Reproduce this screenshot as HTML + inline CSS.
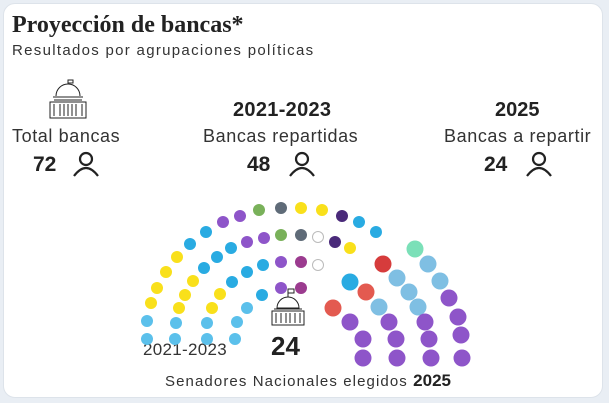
<!DOCTYPE html>
<html><head><meta charset="utf-8"><style>
body{margin:0;width:609px;height:403px;background:#e9eef4;font-family:"Liberation Sans",sans-serif;overflow:hidden}
.card{position:absolute;left:3px;top:3px;width:598px;height:393px;background:#fff;border-radius:12px;border:1px solid #dde3ea}
.t{position:absolute;white-space:nowrap;color:#222}
.l{font-size:18px;color:#333;letter-spacing:0.6px}
</style></head><body>
<div class="card"></div>
<div class="t" style="left:12px;top:12px;font-family:'Liberation Serif',serif;font-weight:bold;font-size:24px">Proyección de bancas*</div>
<div class="t" style="left:12px;top:42px;font-size:15px;color:#333;letter-spacing:1.3px">Resultados por agrupaciones políticas</div>
<div class="t l" style="left:12px;top:126px">Total bancas</div>
<div class="t" style="left:33px;top:153px;font-size:21px;font-weight:bold">72</div>
<div class="t" style="left:233px;top:99px;font-size:20px;font-weight:bold;letter-spacing:0.3px">2021-2023</div>
<div class="t l" style="left:203px;top:126px">Bancas repartidas</div>
<div class="t" style="left:247px;top:153px;font-size:21px;font-weight:bold">48</div>
<div class="t" style="left:495px;top:99px;font-size:20px;font-weight:bold">2025</div>
<div class="t l" style="left:444px;top:126px">Bancas a repartir</div>
<div class="t" style="left:484px;top:153px;font-size:21px;font-weight:bold">24</div>
<div class="t" style="left:143px;top:340px;font-size:17px;color:#333;letter-spacing:0.3px">2021-2023</div>
<div class="t" style="left:271px;top:331px;font-size:26px;font-weight:bold">24</div>
<div class="t" style="left:165px;top:371px;font-size:15px;color:#333;letter-spacing:1.1px">Senadores Nacionales elegidos <b style="font-size:17px;color:#222;letter-spacing:0">2025</b></div>
<svg width="609" height="403" style="position:absolute;left:0;top:0">
<g fill="none" stroke="#222" stroke-width="2.2">
<circle cx="86" cy="159" r="6"/><path d="M74 176 q12-16 24 0"/>
<circle cx="302" cy="159" r="6"/><path d="M290 176 q12-16 24 0"/>
<circle cx="539" cy="159" r="6"/><path d="M527 176 q12-16 24 0"/>
</g>
<g fill="none" stroke="#222" stroke-width="1">
<path d="M56 96 a12 12 0 0 1 24 0 M53 97 h30 M54 100 h28 M50 102 h36 v16 h-36z M54 104 v12 M60 104 v12 M64 104 v12 M68 104 v12 M72 104 v12 M76 104 v12 M82 104 v12 M68 84 v-4 h5 v3 h-5"/>
</g>
<g>
<circle cx="147" cy="339" r="6" fill="#5bc0eb"/><circle cx="147" cy="321" r="6" fill="#5bc0eb"/>
<circle cx="151" cy="303" r="6" fill="#f9e01b"/><circle cx="157" cy="288" r="6" fill="#f9e01b"/>
<circle cx="166" cy="272" r="6" fill="#f9e01b"/><circle cx="177" cy="257" r="6" fill="#f9e01b"/>
<circle cx="190" cy="244" r="6" fill="#29abe2"/><circle cx="206" cy="232" r="6" fill="#29abe2"/>
<circle cx="223" cy="222" r="6" fill="#8e55c9"/><circle cx="240" cy="216" r="6" fill="#8e55c9"/>
<circle cx="259" cy="210" r="6" fill="#79b15a"/><circle cx="281" cy="208" r="6" fill="#5f6b78"/>
<circle cx="301" cy="208" r="6" fill="#f9e01b"/><circle cx="322" cy="210" r="6" fill="#f9e01b"/>
<circle cx="342" cy="216" r="6" fill="#4a2a7a"/><circle cx="359" cy="222" r="6" fill="#29abe2"/>
<circle cx="376" cy="232" r="6" fill="#29abe2"/>
<circle cx="175" cy="339" r="6" fill="#5bc0eb"/><circle cx="176" cy="323" r="6" fill="#5bc0eb"/>
<circle cx="179" cy="308" r="6" fill="#f9e01b"/><circle cx="185" cy="295" r="6" fill="#f9e01b"/>
<circle cx="193" cy="281" r="6" fill="#f9e01b"/><circle cx="204" cy="268" r="6" fill="#29abe2"/>
<circle cx="217" cy="257" r="6" fill="#29abe2"/><circle cx="231" cy="248" r="6" fill="#29abe2"/>
<circle cx="247" cy="242" r="6" fill="#8e55c9"/><circle cx="264" cy="238" r="6" fill="#8e55c9"/>
<circle cx="281" cy="235" r="6" fill="#79b15a"/><circle cx="301" cy="235" r="6" fill="#5f6b78"/>
<circle cx="318" cy="237" r="5.5" fill="#fff" stroke="#bbb"/><circle cx="335" cy="242" r="6" fill="#4a2a7a"/>
<circle cx="350" cy="248" r="6" fill="#f9e01b"/>
<circle cx="207" cy="339" r="6" fill="#5bc0eb"/><circle cx="207" cy="323" r="6" fill="#5bc0eb"/>
<circle cx="212" cy="308" r="6" fill="#f9e01b"/><circle cx="220" cy="294" r="6" fill="#f9e01b"/>
<circle cx="232" cy="282" r="6" fill="#29abe2"/><circle cx="247" cy="272" r="6" fill="#29abe2"/>
<circle cx="263" cy="265" r="6" fill="#29abe2"/><circle cx="281" cy="262" r="6" fill="#8e55c9"/>
<circle cx="301" cy="262" r="6" fill="#9b3b8f"/><circle cx="318" cy="265" r="5.5" fill="#fff" stroke="#bbb"/>
<circle cx="235" cy="339" r="6" fill="#5bc0eb"/><circle cx="237" cy="322" r="6" fill="#5bc0eb"/>
<circle cx="247" cy="308" r="6" fill="#5bc0eb"/><circle cx="262" cy="295" r="6" fill="#29abe2"/>
<circle cx="281" cy="288" r="6" fill="#8e55c9"/><circle cx="301" cy="288" r="6" fill="#9b3b8f"/>
<circle cx="415" cy="249" r="8.5" fill="#7be0b8"/><circle cx="428" cy="264" r="8.5" fill="#7fbfe3"/>
<circle cx="440" cy="281" r="8.5" fill="#7fbfe3"/><circle cx="449" cy="298" r="8.5" fill="#8e55c9"/>
<circle cx="458" cy="317" r="8.5" fill="#8e55c9"/><circle cx="461" cy="335" r="8.5" fill="#8e55c9"/>
<circle cx="462" cy="358" r="8.5" fill="#8e55c9"/>
<circle cx="383" cy="264" r="8.5" fill="#d63c3c"/><circle cx="397" cy="278" r="8.5" fill="#7fbfe3"/>
<circle cx="409" cy="292" r="8.5" fill="#7fbfe3"/><circle cx="418" cy="307" r="8.5" fill="#7fbfe3"/>
<circle cx="425" cy="322" r="8.5" fill="#8e55c9"/><circle cx="429" cy="339" r="8.5" fill="#8e55c9"/>
<circle cx="431" cy="358" r="8.5" fill="#8e55c9"/>
<circle cx="350" cy="282" r="8.5" fill="#29abe2"/><circle cx="366" cy="292" r="8.5" fill="#e35a50"/>
<circle cx="379" cy="307" r="8.5" fill="#7fbfe3"/><circle cx="389" cy="322" r="8.5" fill="#8e55c9"/>
<circle cx="396" cy="339" r="8.5" fill="#8e55c9"/><circle cx="397" cy="358" r="8.5" fill="#8e55c9"/>
<circle cx="333" cy="308" r="8.5" fill="#e35a50"/><circle cx="350" cy="322" r="8.5" fill="#8e55c9"/>
<circle cx="363" cy="339" r="8.5" fill="#8e55c9"/><circle cx="363" cy="358" r="8.5" fill="#8e55c9"/>
</g>
<g fill="#fff" stroke="#222" stroke-width="1">
<path d="M277 308 a11 11 0 0 1 22 0z"/><rect x="272" y="311" width="32" height="14"/>
<path d="M276 313 v10 M281 313 v10 M286 313 v10 M290 313 v10 M295 313 v10 M300 313 v10 M274 309 h28 M288 297 v-8 h6 v4 h-6"/>
</g>
</svg>
</body></html>
